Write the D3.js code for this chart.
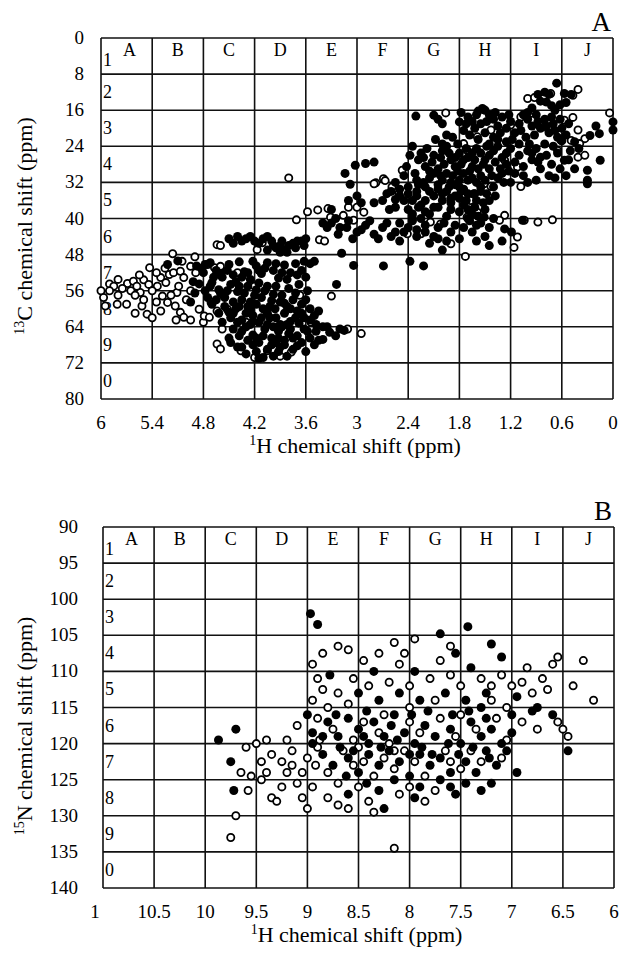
<!DOCTYPE html>
<html>
<head>
<meta charset="utf-8">
<script src="https://cdn.jsdelivr.net/npm/d3@7"></script>
<style>
  body { margin: 0; background: #fff; }
  svg { display: block; }
  text { font-family: "Liberation Serif", "Times New Roman", "DejaVu Serif", serif; }
</style>
</head>
<body>
<svg id="chart" width="621" height="957"></svg>
<script>
// ---- panel A : 1H / 13C ----
const aXTicks = [6, 5.4, 4.8, 4.2, 3.6, 3, 2.4, 1.8, 1.2, 0.6, 0];
const aYTicks = [0, 8, 16, 24, 32, 40, 48, 56, 64, 72, 80];
const colLetters = ["A", "B", "C", "D", "E", "F", "G", "H", "I", "J"];
const rowDigits = ["1", "2", "3", "4", "5", "6", "7", "8", "9", "0"];

const aFilled = [
  // I/J top cluster
  [0.66,10],[0.57,12.3],[0.49,12.5],[0.88,12.5],[0.8,12],[0.75,12.5],[0.85,14],[0.78,14.2],[0.72,15],[0.62,14.8],[0.55,14.3],[0.68,16],[0.95,15.5],[1.0,16.5],
  // row 3
  [2.31,17.3],[2.1,17.1],[2.05,18],[2.0,19],[1.8,18.6],[1.53,15.6],[1.5,16],[1.58,16.2],[1.7,17.5],[1.65,18.5],[1.6,17],[1.55,19],[1.45,17],[1.4,18],[1.35,19.5],[1.3,17.5],[1.25,20],[1.2,18.5],[1.15,21],[1.1,19],[1.05,17],[1.0,18],[0.95,19.5],[0.9,17],[0.85,20],[0.8,18],[0.75,21],[0.7,19],[0.65,22],[0.6,20],[1.75,20.5],[1.5,21],[1.4,22],[0.0,18.6],[0.0,20.4],[0.16,21.2],[0.27,21.6],[0.2,19.5],
  [1.78,16.5],[1.72,19],[1.62,20],[1.48,18.5],[1.38,16.5],[1.32,21],[1.22,17],[1.18,22.5],[1.08,20.5],[1.02,22],[0.92,21.5],[0.88,18.5],[0.78,19.5],[0.72,17.5],[0.68,20.5],[0.62,18],[0.55,21.5],[0.52,19],[0.45,23],[1.25,23],[1.1,23.5],[0.98,23.5],
  [1.68,21.5],[1.58,22.5],[1.45,23.5],[1.35,22.5],[1.88,22],[1.95,21.5],[2.08,22.5],[2.0,23.5],[1.82,23.5],
  // row 4
  [2.25,25.5],[2.1,26],[2.0,25],[1.9,27],[1.8,25.5],[1.7,26.5],[1.6,24.5],[1.5,27],[1.4,25],[1.3,26.5],[1.2,24.5],[1.1,26],[1.0,25],[0.9,24.5],[0.95,27],[0.85,26.4],[0.8,23.5],[0.7,24],[0.6,22.8],[0.57,27.1],[0.5,25],[0.3,29.3],[0.15,27.1],
  [2.2,28.5],[2.05,29],[1.95,30],[1.85,28.5],[1.75,30],[1.65,28.5],[1.55,30.5],[1.45,29],[1.35,31],[1.25,28],[1.15,30],[1.2,32],[2.15,31],[2.0,31.5],[1.9,32],[1.7,31.5],[1.6,32],[0.85,29],[0.75,30.5],[0.55,30.5],[0.3,31.5],[0.3,32.3],
  [2.35,24],[2.28,27],[2.18,24.5],[2.12,27.5],[2.02,26.5],[1.95,24],[1.85,26.5],[1.78,28],[1.72,24.5],[1.62,27],[1.55,25.5],[1.45,26],[1.35,24],[1.25,25.5],[1.15,27.5],[1.05,28.5],[2.32,30],[2.28,32.5],[2.1,30],[2.05,32.5],[1.98,28],[1.88,30.5],[1.8,31.5],[1.68,29.5],[1.58,29],[1.5,31.5],[1.42,30.5],[1.32,29],[1.28,32],[1.4,33],
  [2.38,26],[2.22,26.5],[2.15,29.5],[1.92,25.5],[1.82,29.5],[1.75,27],[1.65,25.5],[1.52,28],[1.48,24],[1.38,27.5],[1.3,30],[1.22,29.5],[2.42,28.5],[2.3,31.5],[2.22,32],[2.02,30.5],
  [0.95,25.5],[0.88,27.5],[0.78,26],[0.72,28],[0.65,25.5],[0.62,29],[0.52,27],[0.45,29],[0.4,24.5],[0.68,31],[0.9,31.5],[1.05,30.5],[1.0,32],
  [3.02,28.2],[3.14,30],[2.9,27.8],[2.8,27.5],[3.08,32.4],
  // row 5
  [2.6,34],[2.5,35],[2.4,33],[2.35,36],[2.3,34],[2.2,33],[2.25,37],[2.1,35],[2.05,33.5],[2.0,36],[1.95,34],[1.9,38],[1.85,35],[1.8,33],[1.75,37],[1.7,34.5],[1.65,39],[1.6,36],[1.55,34],[1.5,38],[1.45,36],[2.15,39],[2.4,38],[2.55,37.5],[2.7,36],[2.8,36.5],[3.0,35],[2.95,36.5],[3.1,36],
  [2.55,32],[2.45,30.5],[2.5,33.5],[2.45,36],[2.3,35],[2.2,36],[2.15,34],[2.0,34.5],[1.9,36.5],[1.8,35.5],[1.72,36],[1.62,37.5],[1.52,36.5],[1.38,35],[2.62,38],[2.35,39],[2.1,37.5],[1.95,39.5],[1.8,38.5],[1.68,40.5],
  [1.92,33],[1.85,32.5],[1.75,33.5],[1.65,31],[1.55,33],[1.48,34.5],[1.62,34.5],[1.78,34],[1.9,35.5],[2.05,37.5],[2.2,38.5],[2.28,37.5],[2.4,34.5],[2.55,35.8],[2.65,34.5],[2.35,40],[2.25,40],[1.98,41],[1.85,41.5],[1.6,41.5],[1.7,38],[1.58,39.5],
  // row 6 band
  [3.3,41],[3.2,42],[3.1,40.5],[3.0,43],[2.9,41.5],[2.8,43.5],[2.7,42],[2.6,44],[2.5,41],[2.45,43],[2.35,40.5],[2.3,42.5],[2.2,41.5],[2.1,44],[2.05,42],[1.95,45],[1.9,43],[1.8,44.5],[1.75,42],[1.7,40],[1.65,43],[1.6,45],[1.55,41],[1.5,44],[1.45,42],[1.4,40],[1.27,42.3],[1.19,43],[1.51,39.7],[1.06,40.4],[1.45,46],[1.3,45],[2.0,47],
  [3.35,42],[3.22,43.5],[3.12,42],[3.05,44.5],[2.95,42.5],[2.85,40.5],[2.75,44.5],[2.65,41],[2.55,43],[2.5,45],[2.4,42],[2.3,44],[2.2,43],[2.15,45.5],[2.05,44.5],
  [3.18,47.7],[3.04,50.4],[2.69,50.5],[2.38,49.5],[2.22,50.5],
  // C-D row 6 band
  [4.5,44.5],[4.4,44],[4.3,44.5],[4.2,45],[4.1,44.5],[4.0,45],[3.95,46.5],[3.9,46],[3.85,47],[3.8,46],[3.75,45.5],[3.7,45],[3.65,45],[3.6,44.5],[4.05,47],[3.9,47.5],[3.3,38],[3.25,40],[3.4,41],
  [4.45,45.5],[4.35,45],[4.25,44],[4.15,45.5],[4.05,44],[3.98,46],[3.88,45],[3.82,47.5],[3.72,46.5],[3.62,46],
  // C-D blob
  [4.88,50.5],[4.8,52],[4.72,49.8],[4.65,51.5],[4.58,53],[4.5,50.2],[4.45,52.5],[4.38,49.6],[4.32,51.8],[4.25,53.5],[4.18,50.5],[4.12,52.2],[4.05,49.8],[3.98,51.5],[3.92,53.2],[3.85,50.3],[3.78,52],[3.72,50],[3.65,51.5],
  [4.85,54.5],[4.78,56],[4.7,54.2],[4.62,55.8],[4.55,57.5],[4.48,54.6],[4.4,56.2],[4.35,58],[4.28,55],[4.2,57],[4.15,54.3],[4.08,56],[4.0,58.2],[3.95,55],[3.88,57],[3.8,55.5],[3.75,58],
  [4.7,59],[4.62,61],[4.55,59.5],[4.48,62],[4.42,60],[4.35,62.5],[4.28,59.5],[4.22,61.5],[4.15,63],[4.1,60],[4.02,62],[3.96,60],[3.9,63.5],[3.85,61],[3.78,62.8],[3.7,60.5],[3.62,62],
  [4.45,64.5],[4.38,66],[4.3,64],[4.22,65.8],[4.15,67.5],[4.08,64.5],[4.0,66.5],[3.92,65],[3.85,67],[3.78,64.5],[3.7,66],[3.62,64.5],[3.55,66.5],[3.48,65],[3.4,66.8],[3.32,65.2],[3.25,66],[3.15,64.8],
  [4.4,68.5],[4.3,70],[4.22,68],[4.15,71],[4.05,69],[3.98,70.5],[3.9,68.5],[3.82,70.5],[3.75,69],
  [4.82,51],[4.68,53],[4.52,51.5],[4.42,54],[4.28,52],[4.22,49.5],[4.08,51],[3.95,50],[3.82,53.5],[3.7,52.5],[3.6,53],
  [4.75,57.5],[4.6,56.5],[4.45,58.5],[4.32,56.5],[4.25,58.5],[4.12,57.5],[4.05,55],[3.9,58.5],[3.82,59.5],[3.72,56.5],[3.65,59],[3.58,56],
  [4.58,63],[4.45,61],[4.3,61],[4.18,59],[4.12,62],[4.05,61],[3.95,62],[3.82,63.5],[3.72,62],[3.65,61],[3.55,60],[3.5,61.5],
  [4.5,66.5],[4.35,65],[4.25,63.5],[4.18,66.5],[4.05,63.5],[3.95,67.5],[3.88,64],[3.75,66.5],[3.65,67.5],[3.58,65],[3.45,67],[3.35,64],[3.2,64.5],
  [4.35,68.5],[4.18,69.5],[4.1,70.8],[4.0,68],[3.92,69.5],[3.85,68],[3.7,68.2],[3.6,69.5],[3.5,68],
  [4.78,50.2],[4.6,52.2],[4.35,53],[4.15,51.5],[3.88,52],[4.72,55],[4.52,56],[4.38,55],[4.18,55.8],[3.98,56.8],[3.85,58.8],[4.65,58],[4.5,60.8],[4.38,59.5],[4.25,60.2],[4.02,59.5],[3.78,60],[4.4,63],[4.22,62.8],[3.98,64],[3.8,65.5],[3.68,63.2],[4.28,67],[4.1,66],[3.92,66.5],[4.48,67.5],
  [3.55,62.5],[3.48,63.5],[3.4,64],[3.6,58],[3.45,60.5],[3.68,54.6],[3.24,54.6],[3.55,50],[3.5,49.5],[3.62,49.5],[5.22,50.2],[5.1,49.4],[4.9,56.5],[4.95,58.5],[4.92,54]
];

const aOpen = [
  [5.16,47.8],[5.43,50.9],[5.69,54.4],[5.62,53.9],[5.5,53.6],[5.44,54.6],[5.54,56.4],[5.34,55],[5.3,53.1],[5.24,54.2],[5.2,52.4],[5.15,52],[5.07,51.7],[5.03,53.1],[4.95,50.6],[4.89,52],[4.75,50.2],[4.67,50.9],[4.6,50.6],
  [5.28,57.2],[5.22,58.6],[5.13,59.4],[5.07,60.8],[5.03,61.9],[5.3,60.5],[5.46,61.2],[5.52,59.4],[5.97,57.5],[5.81,59],[5.95,59.4],[5.11,56.4],[5.09,55],
  [5.9,54.5],[5.8,57],[5.65,56],[5.58,55],[5.5,58],[5.4,56],[5.35,58.5],[5.18,57],[5.0,58],[4.95,56],[5.05,49.5],[5.25,51],[5.35,52],[5.55,52.5],[5.8,53.5],[6.0,56],[5.6,61],[5.4,62],[4.8,63],[4.95,62.5],[5.12,62.5],
  [4.85,60.1],[4.79,61.6],[4.73,61.9],[4.64,60.5],[4.52,60.1],[4.71,58.6],[4.56,57.2],[4.58,64.5],[4.64,67.8],[4.6,68.9],[4.36,69.3],[4.05,69.3],[3.77,69.6],
  [3.67,57],[3.3,57.2],[3.54,63],[3.11,64.5],[2.95,65.5],[4.64,45.8],[4.6,46],[4.17,46.9],[4.11,45.4],[3.44,44.7],[3.38,45],
  [3.8,31],[3.58,38.5],[3.71,40.3],[3.46,38.1],[3.34,37.8],
  [5.85,55],[5.75,55.5],[5.9,56],[5.7,59],[5.6,57],[4.9,48.5],[4.4,52],[4.2,55],[4.3,63],[4.2,70.8],[3.9,70.5],
  [0.41,11.4],[1.0,13.4],[0.92,13.2],[0.73,12.3],[0.47,12.7],[1.96,16.6],[1.2,19.3],[0.47,17.6],[0.41,20.4],[0.04,16.6],[0.33,22.3],[0.39,23.4],[0.41,26.4],[0.33,26],
  [2.47,29.3],[2.78,32.1],[2.69,31.2],[1.08,32.9],[1.43,32.9],[1.51,32.3],[1.27,39.3],[1.04,40.4],[0.88,40.8],[0.71,40.3],[1.16,46.4],[1.73,48.4],[1.9,45.6],
  [2.41,43.4],[2.25,43.4],[2.14,40.8],[2.02,41.2],[3.31,39.7],[3.1,37.5],[3.0,37.5],[2.8,32.3],[2.67,31.6],[2.59,33],[2.51,34.5],[1.67,36],[1.63,34.5],[1.71,39.7],[1.59,38.6],[1.12,44.1],[1.33,40.4],
  [0.61,22.7],[0.65,24.9],[0.49,22.7],[1.12,28.6],[1.27,27.1],[1.75,23.4],[1.71,24.9],[1.59,21.9],[1.43,20.4],[1.08,17.5],[0.96,16.7],[0.86,19.3],[0.76,20.1],[0.57,18.2],
  [3.04,40.4],[2.92,38.6],[3.16,39.3]
];

// ---- panel B : 1H / 15N ----
const bXTicks = [11, 10.5, 10, 9.5, 9, 8.5, 8, 7.5, 7, 6.5, 6];
const bXTickText = ["1", "10.5", "10", "9.5", "9", "8.5", "8", "7.5", "7", "6.5", "6"];
const bYTicks = [90, 95, 100, 105, 110, 115, 120, 125, 130, 135, 140];

const bFilled = [
  [8.97,102],[8.9,103.5],[7.7,104.8],[7.43,103.8],[7.55,107.5],[7.2,106.2],[7.1,108],
  [8.5,113],[8.3,114],[8.1,113],[7.9,114],[7.65,113],[7.45,114],[7.3,115],[6.75,115],[6.6,116],[6.8,115.5],
  [9.0,116],[8.95,118.5],[8.8,117],[8.7,119],[8.6,116.5],[8.5,118],[8.4,120],[8.35,117],[8.25,119],[8.15,116],[8.05,118.5],[7.95,120],[7.85,117.5],[7.75,119],[7.6,118],[7.5,120],[7.4,117],[7.3,119],[7.2,118],[7.1,120],[7.0,118.5],
  [8.85,121.5],[8.75,123],[8.6,122],[8.5,124],[8.4,121.5],[8.3,123],[8.2,121],[8.1,122.5],[8.0,124.5],[7.9,121.5],[7.8,123],[7.7,122],[7.6,124],[7.45,122.5],[7.35,124],[7.25,121],[7.15,123],
  [8.25,129],[7.6,126],[7.45,125.5],[8.6,127],[8.3,126.5],[7.9,126],[7.3,126.5],[6.95,124],[6.45,121],
  [9.87,119.5],[9.7,118],[9.75,122.5],[9.72,126.5],
  [8.95,120],[8.85,119],[8.68,120.5],[8.55,121],[8.45,119],[8.28,120.5],[8.12,119.5],[8.0,121.5],[7.88,120.5],[7.78,121.5],[7.62,120],[7.52,121.5],[7.38,120.5],[7.22,122],[7.05,121],
  [8.72,116],[8.42,115.5],[8.18,117.5],[7.98,116],[7.82,115.5],[7.58,116],[7.42,115.5],[7.25,116.5],
  [8.62,124.5],[8.42,125.5],[8.15,125],[7.95,127.5],[7.7,125],[7.55,127],[7.2,125.5],
  [8.78,110.5],[8.35,110],[7.95,110],[7.4,109.5],[7.25,113],[6.95,113.5],[7.0,116]
];

const bOpen = [
  [8.7,106.5],[8.6,107],[8.3,107.5],[8.05,107.5],[8.1,109],[7.6,106.5],[6.55,108],[6.6,109],[6.3,108.5],[6.2,114],
  [8.9,111],[8.85,112.5],[8.7,113],[8.55,111],[8.4,112],[8.2,111.5],[8.0,112],[7.8,111],[7.6,110.5],[7.5,112],[7.3,111],[7.1,110.5],[7.0,112],[6.9,111.5],[6.8,113],[6.7,111],[6.4,112],
  [9.4,119.5],[9.1,117.5],[8.9,116.5],[8.75,118],[8.55,119.5],[8.45,117],[8.3,118.5],[8.2,120],[8.0,117],[7.9,118.5],[7.7,116.5],[7.55,119],[7.35,118],[7.15,116.5],[7.05,119.5],[6.55,117],[6.5,118],[6.45,119],
  [9.0,122],[8.9,120.5],[8.8,124],[8.65,121],[8.45,122.5],[8.35,124.5],[8.15,123.5],[8.05,121],[7.85,124.5],[7.65,121],[7.5,123.5],[7.3,122.5],
  [9.58,126.5],[9.55,124.5],[9.5,120],[9.45,125],[9.4,124],[9.35,127.5],[9.3,128],[9.25,126],[9.2,124],[9.1,125.5],[9.05,127.5],[9.0,129],[8.95,126],[8.8,127.5],[8.7,128.5],[8.5,126],[8.4,128],[8.1,127],
  [9.75,133],[9.7,130],[8.15,134.5],
  [8.95,114],[8.8,115],[8.6,114.5],[8.25,116],[8.0,115],[7.75,114],[7.5,116],[7.2,114],[7.05,115],
  [8.88,119.5],[8.5,120.5],[8.15,121],[7.95,122.5],[7.6,122.5],[7.4,121],[7.1,122],
  [8.92,123],[8.7,125.5],[8.55,123],[8.25,122],[8.0,126],[7.75,126.5],[7.85,128],[8.35,129.5],[8.6,129],
  [9.15,121],[9.2,119.5],[9.35,121.5],[9.45,122.5],[9.25,122.5],[9.15,123],[9.05,124],
  [6.9,117],[6.75,118],[6.65,112.5],[6.85,109.5],[7.2,112],[7.7,108.5],[7.95,105.5],[8.15,106],[8.45,108.5],[8.85,107.5],[8.95,109],[9.6,120.5],[9.65,124]
];

const svg = d3.select("#chart");

function drawPanel(cfg) {
  const x = d3.scaleLinear().domain(cfg.xDomain).range([cfg.left, cfg.right]);
  const y = d3.scaleLinear().domain(cfg.yDomain).range([cfg.top, cfg.bottom]);
  const g = svg.append("g").attr("fill", "#000");

  // grid
  g.selectAll(".vline").data(cfg.xTicks).enter().append("line")
    .attr("x1", d => x(d)).attr("x2", d => x(d))
    .attr("y1", cfg.top).attr("y2", cfg.bottom)
    .attr("stroke", "#111").attr("stroke-width", 1.6);
  g.selectAll(".hline").data(cfg.yTicks).enter().append("line")
    .attr("y1", d => y(d)).attr("y2", d => y(d))
    .attr("x1", cfg.left).attr("x2", cfg.right)
    .attr("stroke", "#111").attr("stroke-width", 1.6);

  // column letters / row digits
  const colW = (cfg.right - cfg.left) / 10;
  const rowH = (cfg.bottom - cfg.top) / 10;
  g.selectAll(".col").data(colLetters).enter().append("text")
    .attr("x", (d, i) => cfg.left + colW * (i + 0.5) + (i === 0 ? 3 : 0))
    .attr("y", cfg.top + 18)
    .attr("text-anchor", "middle").attr("font-size", 18).text(d => d);
  g.selectAll(".row").data(rowDigits).enter().append("text")
    .attr("x", cfg.left + 2)
    .attr("y", (d, i) => cfg.top + rowH * (i + 0.5) + (i === 0 ? 10 : 6))
    .attr("font-size", 18).text(d => d);

  // tick labels
  g.selectAll(".xt").data(cfg.xTicks).enter().append("text")
    .attr("x", (d, i) => x(d) + (cfg.xShift ? cfg.xShift[i] : 0))
    .attr("y", cfg.bottom + 30)
    .attr("text-anchor", "middle").attr("font-size", 19)
    .text((d, i) => cfg.xText ? cfg.xText[i] : d);
  g.selectAll(".yt").data(cfg.yTicks).enter().append("text")
    .attr("x", cfg.yLabelX)
    .attr("y", d => y(d) + 6)
    .attr("text-anchor", "end").attr("font-size", 19).text(d => d);

  // points
  g.selectAll(".open").data(cfg.open).enter().append("circle")
    .attr("cx", d => x(d[0])).attr("cy", d => y(d[1])).attr("r", 3.6)
    .attr("fill", "#fff").attr("stroke", "#000").attr("stroke-width", 1.8);
  g.selectAll(".filled").data(cfg.filled).enter().append("circle")
    .attr("cx", d => x(d[0])).attr("cy", d => y(d[1])).attr("r", 4.5)
    .attr("fill", "#000");

  // panel letter
  g.append("text").attr("x", cfg.right - 2).attr("y", cfg.top - 7)
    .attr("text-anchor", "end").attr("font-size", 27).text(cfg.letter);

  // axis titles
  const xt = g.append("text").attr("x", (cfg.left + cfg.right) / 2 - 2).attr("y", cfg.bottom + 54)
    .attr("text-anchor", "middle").attr("font-size", 22);
  xt.append("tspan").attr("font-size", 14).attr("dy", -8).text("1");
  xt.append("tspan").attr("dy", 8).text("H chemical shift (ppm)");

  const yt = g.append("text")
    .attr("transform", `translate(${cfg.yTitleX},${cfg.yTitleY}) rotate(-90)`)
    .attr("text-anchor", "middle").attr("font-size", 22);
  yt.append("tspan").attr("font-size", 14).attr("dy", -8).text(cfg.yNuc);
  yt.append("tspan").attr("dy", 8).text(cfg.yAtom + " chemical shift (ppm)");
}

drawPanel({
  left: 101, right: 613, top: 38, bottom: 399,
  xDomain: [6, 0], yDomain: [0, 80],
  xTicks: aXTicks, yTicks: aYTicks,
  filled: aFilled, open: aOpen,
  yLabelX: 84, letter: "A",
  yTitleX: 32, yTitleY: 226, yNuc: "13", yAtom: "C"
});

drawPanel({
  left: 103, right: 614, top: 527, bottom: 888,
  xDomain: [11, 6], yDomain: [90, 140],
  xTicks: bXTicks, xText: bXTickText,
  xShift: [-8, 0, 0, 0, 0, 0, 0, 0, 0, 0, 0],
  yTicks: bYTicks,
  filled: bFilled, open: bOpen,
  yLabelX: 78, letter: "B",
  yTitleX: 32, yTitleY: 726, yNuc: "15", yAtom: "N"
});
</script>
</body>
</html>
